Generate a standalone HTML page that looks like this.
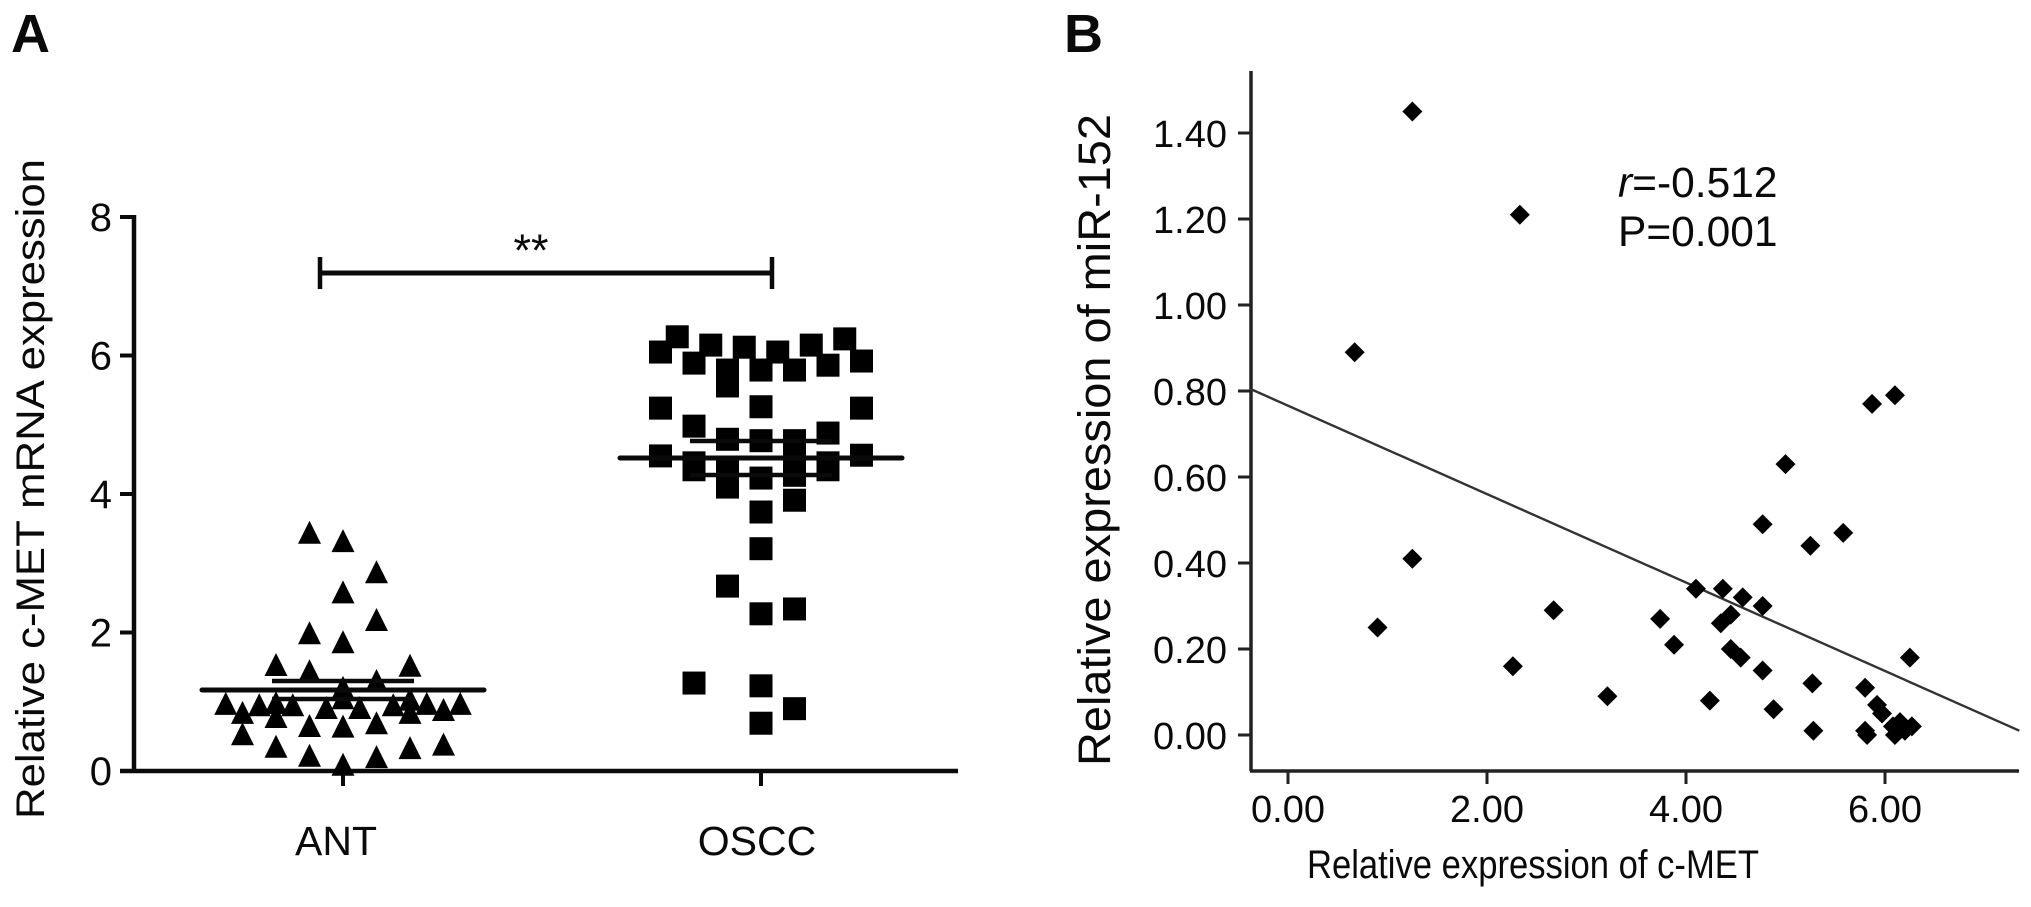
<!DOCTYPE html>
<html lang="en">
<head>
<meta charset="utf-8">
<title>c-MET expression and miR-152 correlation</title>
<style>
html,body{margin:0;padding:0;background:#fff;}
svg{display:block;}
text{font-family:"Liberation Sans",sans-serif;fill:#0a0a0a;}
</style>
</head>
<body>
<svg id="figure" xmlns="http://www.w3.org/2000/svg" width="2031" height="907" viewBox="0 0 2031 907">
  <rect width="2031" height="907" fill="#fff"/>
  <g id="panelA"></g>
  <g id="panelB"></g>
</svg>
<script>
// ---- Panel A data ----
const groupLabels = ['ANT', 'OSCC'];
const yTicksA = [0, 2, 4, 6, 8];
const antColumns = [-2,0,2,0,2,-2,0,-4,4,-2,2,0,-7,-6,-5,-4,-3,-2,-1,0,0,1,2,3,4,5,6,7,-6,-4,-2,0,2,4,6,4,-4];
const antValues = [3.44,3.32,2.87,2.58,2.18,1.99,1.86,1.53,1.52,1.44,1.30,1.20,0.97,0.84,0.95,0.78,0.95,0.65,0.91,0.64,1.05,0.91,0.69,0.95,0.84,0.97,0.88,0.97,0.53,0.35,0.22,0.09,0.20,0.33,0.38,1.03,0.98];
const osccColumns = [-6,-5,-4,-3,-2,-2,-1,0,1,2,3,4,5,6,-6,0,6,-4,4,-2,0,2,-6,6,-4,4,2,-2,-4,4,-2,0,2,0,2,0,-2,0,2,-4,0,2,0];
const osccValues = [6.05,6.27,5.89,6.15,5.79,5.56,6.12,5.79,6.05,5.79,6.15,5.86,6.24,5.92,5.24,5.26,5.24,4.98,4.88,4.79,4.77,4.77,4.55,4.56,4.45,4.45,4.45,4.39,4.35,4.35,4.10,4.23,4.27,3.74,3.91,3.21,2.67,2.27,2.34,1.27,1.23,0.90,0.69];
const groupMeans = [1.17, 4.52];
const groupSems = [0.13, 0.245];

// ---- Panel B data ----
const xTicksB = [0, 2, 4, 6];
const yTicksB = [0, 0.2, 0.4, 0.6, 0.8, 1.0, 1.2, 1.4];
const cmetValues = [0.67,1.25,2.33,1.25,0.90,2.26,2.67,3.21,3.74,3.88,4.10,4.24,4.37,4.35,4.45,4.45,4.55,4.57,4.77,4.77,4.77,4.88,5.00,5.25,5.27,5.28,5.58,5.80,5.80,5.82,5.87,5.92,5.97,6.10,6.08,6.10,6.15,6.20,6.25,6.27];
const mirValues = [0.89,1.45,1.21,0.41,0.25,0.16,0.29,0.09,0.27,0.21,0.34,0.08,0.34,0.26,0.28,0.20,0.18,0.32,0.30,0.15,0.49,0.06,0.63,0.44,0.12,0.01,0.47,0.11,0.01,0.00,0.77,0.07,0.05,0.79,0.02,0.00,0.03,0.01,0.18,0.02];
const fitX = [-0.38, 7.35];
const fitY = [0.805, 0.01];

const NS = 'http://www.w3.org/2000/svg';
const panelA = document.getElementById('panelA');
const panelB = document.getElementById('panelB');

function mk(parent, tag, attrs, txt) {
  const e = document.createElementNS(NS, tag);
  for (const k in attrs) e.setAttribute(k, attrs[k]);
  if (txt !== undefined) e.textContent = txt;
  parent.appendChild(e);
  return e;
}
function line(parent, x1, y1, x2, y2, w, color) {
  return mk(parent, 'line', {x1: x1, y1: y1, x2: x2, y2: y2, stroke: color || '#0a0a0a', 'stroke-width': w});
}

// ---- Panel A scales ----
const yA = v => 771 - v * 69.25;
const groupCenter = [343, 761];
const colStep = 16.75;
const xA = (g, c) => groupCenter[g] + c * colStep;

let el;
el = mk(panelA, 'text', {x: 11, y: 52, 'font-size': 54, 'font-weight': 'bold'}, 'A');



el = line(panelA, 134, yA(8) - 2, 134, yA(0) + 2, 4.5);


el = line(panelA, 120, yA(0), 958, yA(0), 4.5);



yTicksA.forEach(t => {
  const tick = line(panelA, 120, yA(t), 134, yA(t), 4);
  
  
  const lab = mk(panelA, 'text', {x: 112, y: yA(t) + 14, 'font-size': 40, 'text-anchor': 'end'}, String(t));
  
  
});
groupLabels.forEach((g, i) => {
  const tick = line(panelA, groupCenter[i], yA(0), groupCenter[i], 786, 4);
  
  
  const lab = mk(panelA, 'text', {x: i === 0 ? 336 : 757, y: 855, 'font-size': 41, 'text-anchor': 'middle'}, g);
  
  
});

el = mk(panelA, 'text', {transform: 'translate(44,819) rotate(-90)', 'font-size': 40, textLength: 660, lengthAdjust: 'spacingAndGlyphs'}, 'Relative c-MET mRNA expression');



// significance bracket
el = line(panelA, 320, 273, 772, 273, 5);


el = line(panelA, 320, 257, 320, 289, 4.5);


el = line(panelA, 772, 257, 772, 289, 4.5);


el = mk(panelA, 'text', {x: 531, y: 266, 'font-size': 45, 'text-anchor': 'middle'}, '**');



// markers
antValues.forEach((v, i) => {
  const cx = xA(0, antColumns[i]);
  const cy = yA(v);
  const tri = mk(panelA, 'polygon', {points: (cx - 11.5) + ',' + (cy + 11) + ' ' + cx + ',' + (cy - 12) + ' ' + (cx + 11.5) + ',' + (cy + 11), fill: '#000'});
  
  
});
osccValues.forEach((v, i) => {
  const cx = xA(1, osccColumns[i]);
  const cy = yA(v);
  const sq = mk(panelA, 'rect', {x: cx - 11.5, y: cy - 11.5, width: 23, height: 23, fill: '#000'});
  
  
});

// mean and error lines
groupMeans.forEach((m, i) => {
  const cx = groupCenter[i];
  const meanLine = line(panelA, cx - 141, yA(m), cx + 141, yA(m), 5);
  meanLine.setAttribute('stroke-linecap', 'round');
  
  
  const up = line(panelA, cx - 71, yA(m + groupSems[i]), cx + 71, yA(m + groupSems[i]), 4.5);
  
  
  const low = line(panelA, cx - 71, yA(m - groupSems[i]), cx + 71, yA(m - groupSems[i]), 4.5);
  
  
});

// ---- Panel B scales ----
const xB = v => 1288 + v * 99.5;
const yB = v => 735 - v * 430;

el = mk(panelB, 'text', {x: 1064, y: 52, 'font-size': 54, 'font-weight': 'bold'}, 'B');



el = line(panelB, 1251, 71, 1251, 771, 3.5, '#222');


el = line(panelB, 1250, 771, 2019, 771, 3.5, '#222');



yTicksB.forEach(t => {
  const tick = line(panelB, 1238, yB(t), 1251, yB(t), 3, '#222');
  
  
  const lab = mk(panelB, 'text', {x: 1227, y: yB(t) + 14, 'font-size': 38, 'text-anchor': 'end'}, t.toFixed(2));
  
  
});
xTicksB.forEach(t => {
  const tick = line(panelB, xB(t), 771, xB(t), 784, 3, '#222');
  
  
  const lab = mk(panelB, 'text', {x: xB(t), y: 822, 'font-size': 38, 'text-anchor': 'middle'}, t.toFixed(2));
  
  
});

el = mk(panelB, 'text', {x: 1307, y: 878, 'font-size': 40, textLength: 452, lengthAdjust: 'spacingAndGlyphs'}, 'Relative expression of c-MET');


el = mk(panelB, 'text', {transform: 'translate(1110,766) rotate(-90)', 'font-size': 45, textLength: 652, lengthAdjust: 'spacingAndGlyphs'}, 'Relative expression of miR-152');



// regression line
el = line(panelB, xB(fitX[0]), yB(fitY[0]), xB(fitX[1]), yB(fitY[1]), 2.4, '#333');



// scatter points
cmetValues.forEach((v, i) => {
  const cx = xB(v);
  const cy = yB(mirValues[i]);
  const d = mk(panelB, 'polygon', {points: (cx - 10) + ',' + cy + ' ' + cx + ',' + (cy - 10) + ' ' + (cx + 10) + ',' + cy + ' ' + cx + ',' + (cy + 10), fill: '#000'});
  
  
});

// annotation
const rText = mk(panelB, 'text', {x: 1618, y: 197, 'font-size': 42.5});


mk(rText, 'tspan', {'font-style': 'italic'}, 'r');
mk(rText, 'tspan', {}, '=-0.512');
el = mk(panelB, 'text', {x: 1618, y: 246, 'font-size': 42.5}, 'P=0.001');


</script>
</body>
</html>
